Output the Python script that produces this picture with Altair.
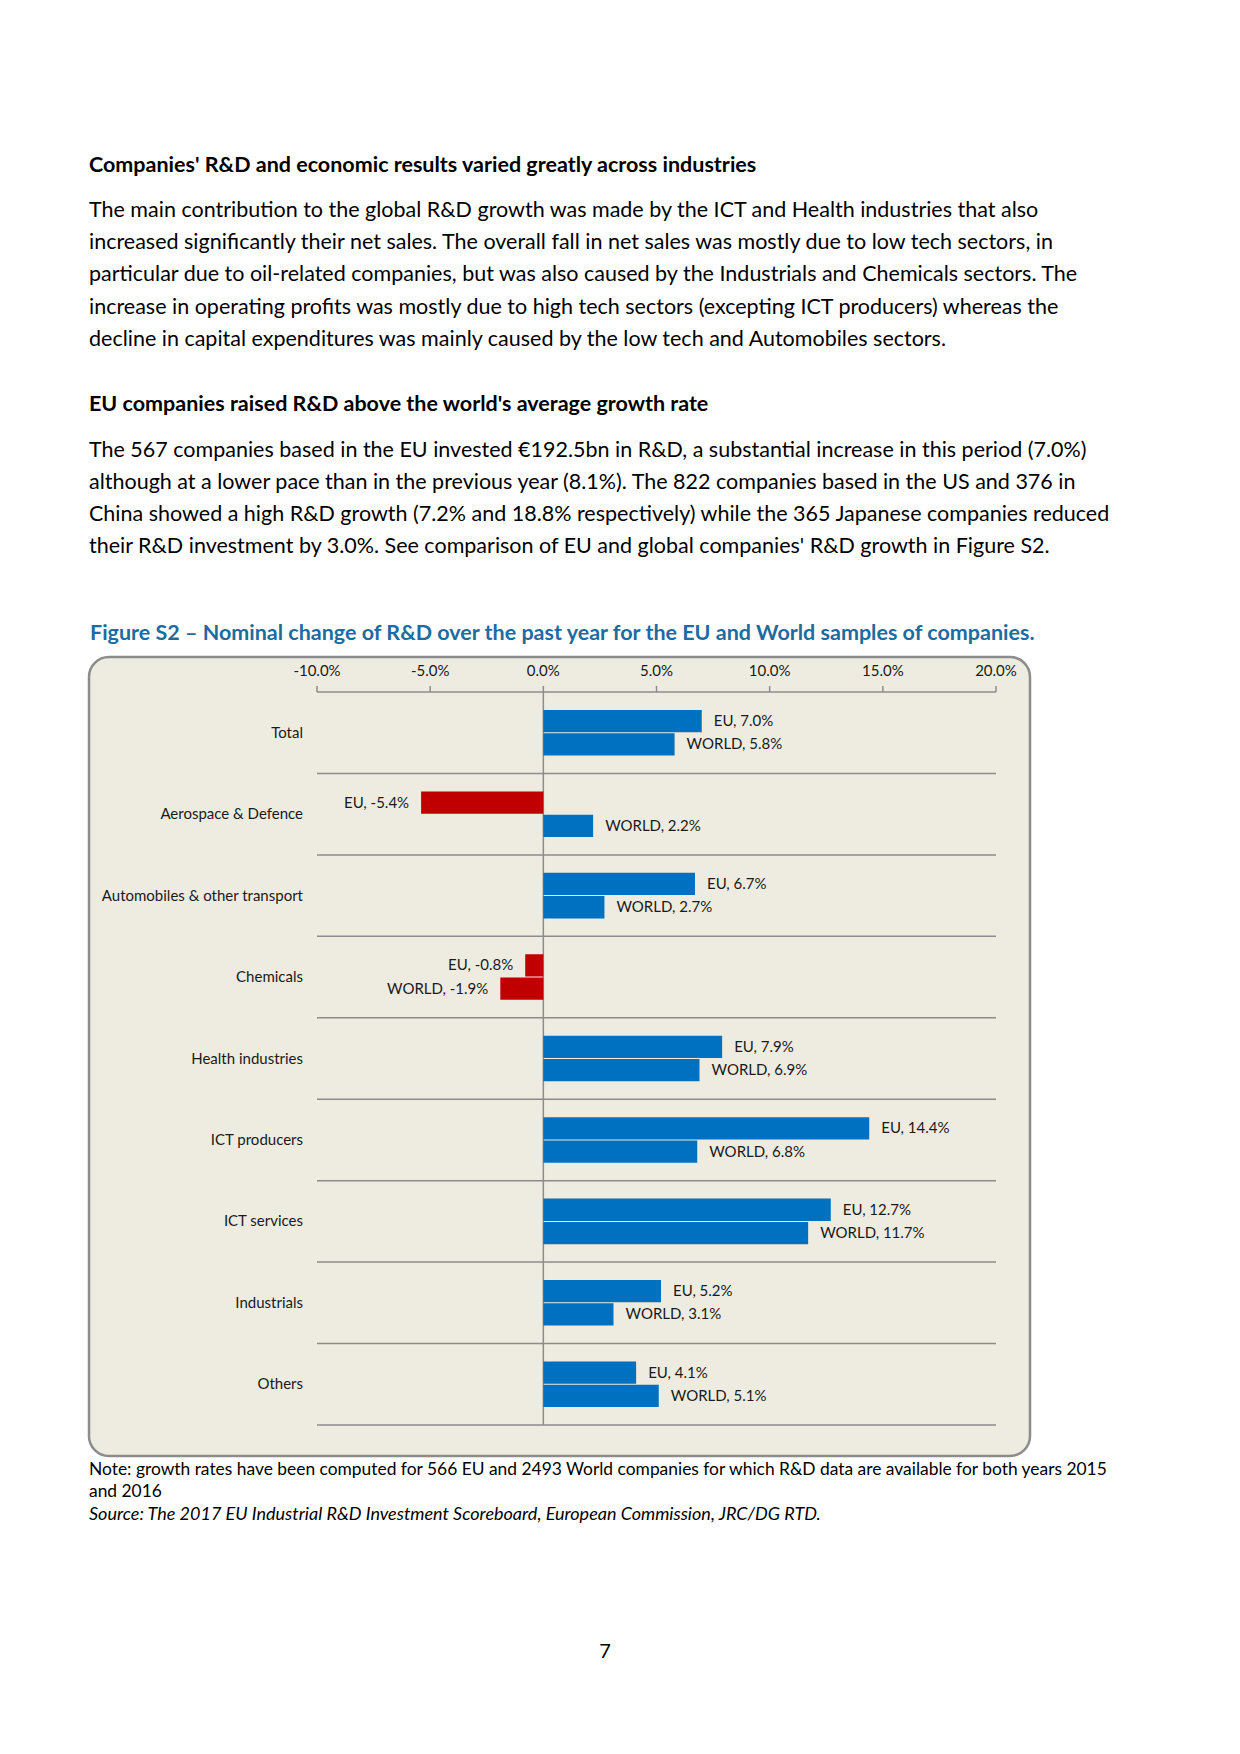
import altair as alt
import pandas as pd

# ---------------- data ----------------
categories = ["Total", "Aerospace & Defence", "Automobiles & other transport", "Chemicals",
              "Health industries", "ICT producers", "ICT services", "Industrials", "Others"]
eu_values = [7.0, -5.4, 6.7, -0.8, 7.9, 14.4, 12.7, 5.2, 4.1]
world_values = [5.8, 2.2, 2.7, -1.9, 6.9, 6.8, 11.7, 3.1, 5.1]
series = ["EU", "WORLD"]
tick_values = [-10, -5, 0, 5, 10, 15, 20]

heading1 = "Companies' R&D and economic results varied greatly across industries"
para1 = [
    "The main contribution to the global R&D growth was made by the ICT and Health industries that also",
    "increased significantly their net sales. The overall fall in net sales was mostly due to low tech sectors, in",
    "particular due to oil-related companies, but was also caused by the Industrials and Chemicals sectors. The",
    "increase in operating profits was mostly due to high tech sectors (excepting ICT producers) whereas the",
    "decline in capital expenditures was mainly caused by the low tech and Automobiles sectors.",
]
heading2 = "EU companies raised R&D above the world's average growth rate"
para2 = [
    "The 567 companies based in the EU invested €192.5bn in R&D, a substantial increase in this period (7.0%)",
    "although at a lower pace than in the previous year (8.1%). The 822 companies based in the US and 376 in",
    "China showed a high R&D growth (7.2% and 18.8% respectively) while the 365 Japanese companies reduced",
    "their R&D investment by 3.0%. See comparison of EU and global companies' R&D growth in Figure S2.",
]
fig_title = "Figure S2 – Nominal change of R&D over the past year for the EU and World samples of companies."
note_lines = [
    "Note:  growth rates have been computed for 566 EU and 2493 World companies for which R&D data are available for both years 2015",
    "and 2016",
]
source_line = "Source: The 2017 EU Industrial R&D Investment Scoreboard, European Commission, JRC/DG RTD."
page_number = "7"

rows = []
for c, e, w in zip(categories, eu_values, world_values):
    rows.append({"sector": c, "series": "EU", "value": e})
    rows.append({"sector": c, "series": "WORLD", "value": w})
df = pd.DataFrame(rows)
ticks_df = pd.DataFrame({"tick": tick_values})
cats_df = pd.DataFrame({"sector": categories})

# ---------------- style / layout ----------------
FONT = "Lato"
GRAY = "#8C8C8C"
TXT = "#1a1a1a"
BLUE = "#0070C0"
RED = "#C00000"
BOXFILL = "#EEECE1"
TITLE_BLUE = "#1E6B9F"
CHART_FS = 15

PAGE_W, PAGE_H = 1224, 1738
PL, PT = 309, 684          # plot area origin inside the page (page minus 8px margin)
W, H = 679, 733            # plot area size

xscale = alt.Scale(domain=[-10, 20], nice=False)
yscale = alt.Scale(domain=categories, paddingInner=0, paddingOuter=0)
yoff_scale = alt.Scale(domain=series, paddingInner=0.043, paddingOuter=0.77)

one = alt.Data(values=[{"a": 1}])


def px(x):
    return x - PL


def py(y):
    return y - PT


# background panel
box = alt.Chart(one).mark_rect(
    fill=BOXFILL, stroke=GRAY, strokeWidth=2.5, cornerRadius=20
).encode(x=alt.value(px(81)), x2=alt.value(px(1022)), y=alt.value(py(649)), y2=alt.value(py(1448)))

# row separators (bottom of each category band)
sep = alt.Chart(cats_df).mark_rule(color=GRAY, strokeWidth=1.5).encode(
    y=alt.Y("sector:N", scale=yscale, bandPosition=1, axis=None),
    x=alt.XDatum(-10, scale=xscale, axis=None),
    x2=alt.X2Datum(20),
)

# top axis: domain line, ticks and labels drawn through the x scale
axis_line = alt.Chart(one).mark_rule(color=GRAY, strokeWidth=1.5).encode(
    x=alt.XDatum(-10, scale=xscale, axis=None),
    x2=alt.X2Datum(20),
    y=alt.value(0),
)
axis_ticks = alt.Chart(ticks_df).mark_rule(color=GRAY, strokeWidth=1.5).encode(
    x=alt.X("tick:Q", scale=xscale, axis=None),
    y=alt.value(-6),
    y2=alt.value(0),
)
axis_labels = alt.Chart(ticks_df).transform_calculate(
    lbl="(datum.tick < 0 ? '-' : '') + format(abs(datum.tick), '.1f') + '%'"
).mark_text(align="center", baseline="alphabetic", font=FONT, fontSize=CHART_FS, color=TXT).encode(
    x=alt.X("tick:Q", scale=xscale, axis=None),
    y=alt.value(-16),
    text="lbl:N",
)

# category labels drawn through the y scale
cat_labels = alt.Chart(cats_df).mark_text(
    align="right", baseline="middle", font=FONT, fontSize=CHART_FS, color=TXT
).encode(
    y=alt.Y("sector:N", scale=yscale, axis=None),
    x=alt.value(-14),
    text="sector:N",
)

zero = alt.Chart(pd.DataFrame({"v": [0]})).mark_rule(color=GRAY, strokeWidth=1.5).encode(
    x=alt.X("v:Q", scale=xscale, axis=None),
    y=alt.value(0),
    y2=alt.value(H),
)

bars = alt.Chart(df).mark_bar().encode(
    x=alt.X("value:Q", scale=xscale, stack=None, axis=None),
    x2=alt.X2Datum(0),
    y=alt.Y("sector:N", scale=yscale, sort=categories, axis=None),
    yOffset=alt.YOffset("series:N", scale=yoff_scale, sort=series),
    color=alt.condition("datum.value < 0", alt.value(RED), alt.value(BLUE)),
)

lab_base = alt.Chart(df).transform_calculate(
    label="datum.series + ', ' + (datum.value < 0 ? '-' : '') + format(abs(datum.value), '.1f') + '%'"
)
lab_enc = dict(
    x=alt.X("value:Q", scale=xscale, axis=None),
    y=alt.Y("sector:N", scale=yscale, axis=None),
    yOffset=alt.YOffset("series:N", scale=yoff_scale),
    text="label:N",
)
pos_labels = lab_base.transform_filter("datum.value >= 0").mark_text(
    align="left", baseline="middle", dx=12, font=FONT, fontSize=CHART_FS, color=TXT
).encode(**lab_enc)
neg_labels = lab_base.transform_filter("datum.value < 0").mark_text(
    align="right", baseline="middle", dx=-12, font=FONT, fontSize=CHART_FS, color=TXT
).encode(**lab_enc)


def text_block(lines, x, y, size, weight="normal", style="normal", color="#000000", lh=None, align="left"):
    kw = dict(align=align, baseline="alphabetic", font=FONT, fontSize=size,
              fontWeight=weight, fontStyle=style, color=color)
    if lh:
        kw["lineHeight"] = lh
    return alt.Chart(one).mark_text(**kw).encode(
        x=alt.value(px(x)), y=alt.value(py(y)), text=alt.value(lines)
    )


texts = [
    text_block(heading1, 81, 164, 21.5, weight="bold"),
    text_block(para1, 81, 209, 21.5, lh=32.2),
    text_block(heading2, 81, 402.5, 21.5, weight="bold"),
    text_block(para2, 81, 448.5, 21.5, lh=32.1),
    text_block(fig_title, 82, 632, 21.5, weight="bold", color=TITLE_BLUE),
    text_block(note_lines, 81, 1467, 17.4, lh=21.5),
    text_block(source_line, 81, 1511.5, 18, style="italic"),
    text_block(page_number, 597, 1650, 20, align="center"),
]

chart = alt.layer(
    box, sep, axis_line, axis_ticks, axis_labels, cat_labels, zero, bars, pos_labels, neg_labels, *texts
).properties(
    width=W, height=H,
    padding={"left": PL, "top": PT, "right": PAGE_W - PL - W, "bottom": PAGE_H - PT - H},
    autosize="none", background="white",
).configure_view(stroke=None)

chart.save("out.html", embed_options={"renderer": "svg", "actions": False})
